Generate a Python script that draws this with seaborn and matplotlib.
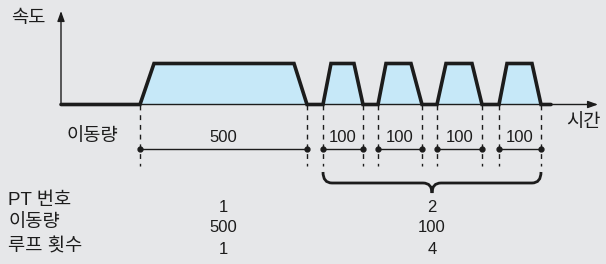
import matplotlib
matplotlib.use("Agg")
import matplotlib.pyplot as plt
import seaborn as sns
from matplotlib.path import Path
from matplotlib.patches import PathPatch

# =======================
# Data (time units along the axis, speed normalised to 1)
# =======================
profile_t = [0, 79, 93, 233, 246, 262, 270, 293, 302, 317, 325, 350, 361,
             376, 385, 411, 421, 438, 446, 471, 480, 490]
profile_v = [0, 0, 1, 1, 0, 0, 1, 1, 0, 0, 1, 1, 0,
             0, 1, 1, 0, 0, 1, 1, 0, 0]

move_start = [79, 262, 317, 376, 438]
move_end = [246, 302, 361, 421, 480]
move_amount = ["500", "100", "100", "100", "100"]

row_labels = ["PT 번호", "이동량", "루프 횟수"]
pt_numbers = ["1", "2"]
pt_amounts = ["500", "100"]
pt_loops = ["1", "4"]
pt_moves = [[0], [1, 2, 3, 4]]  # which moves belong to each PT

# =======================
# Style
# =======================
BG = "#e6e7e9"
FILL = "#c6e8f8"
INK = "#1c1c1c"
sns.set_theme(style="white", rc={"figure.facecolor": BG, "axes.facecolor": BG})
plt.rcParams["font.family"] = ["Liberation Sans", "Noto Sans CJK KR", "DejaVu Sans"]
LBL = 13.5  # korean labels
NUM = 12    # numbers

W, H = 606, 264
X0, Y0, VSCALE = 61, 104.5, 41  # origin in pixels, pixels per unit speed


def py(ypix):
    # pixel row -> data y
    return (Y0 - ypix) / VSCALE


fig = plt.figure(figsize=(W / 100, H / 100), dpi=100)
ax = fig.add_axes([0, 0, 1, 1])
ax.set_xlim(-X0, W - X0)
ax.set_ylim(py(H), py(0))
ax.axis("off")

# axes arrows
arrow = dict(arrowstyle="-|>,head_length=0.5,head_width=0.18", color=INK, lw=1, shrinkA=0, shrinkB=0)
ax.annotate("", xy=(0, py(11)), xytext=(0, 0), arrowprops=arrow)
ax.annotate("", xy=(598 - X0, 0), xytext=(0, 0), arrowprops=arrow)
ax.text(-50, py(18), "속도", fontsize=LBL, color=INK, va="center", ha="left")
ax.text(583 - X0, py(123), "시간", fontsize=LBL, color=INK, va="center", ha="center")

# speed profile
ax.fill_between(profile_t, profile_v, 0, color=FILL, lw=0, zorder=2)
sns.lineplot(x=profile_t, y=profile_v, sort=False, estimator=None, ax=ax,
             color=INK, lw=2.6, zorder=3)
ax.lines[-1].set_solid_joinstyle("miter")

# dashed guides + dimension lines
ax.text(118 - X0, py(137), "이동량", fontsize=LBL, color=INK, va="center", ha="right")
for s, e, amt in zip(move_start, move_end, move_amount):
    for x in (s, e):
        ax.plot([x, x], [0, py(166)], color=INK, lw=1, ls=(0, (3.5, 3.5)), zorder=1)
    ax.plot([s, e], [py(149), py(149)], color=INK, lw=1, marker="o", ms=3.5, zorder=4)
    ax.text((s + e) / 2, py(137), amt, fontsize=NUM, color=INK, va="center", ha="center")

# brace over the looped moves
b0, b1 = move_start[pt_moves[1][0]], move_end[pt_moves[1][-1]]
bm = (b0 + b1) / 2
yt, ym, yb = py(172), py(183), py(193)
r = 9
verts = [(b0, yt), (b0, ym), (b0 + r, ym), (bm - r, ym), (bm, ym), (bm, yb),
         (bm, ym), (bm + r, ym), (b1 - r, ym), (b1, ym), (b1, yt)]
codes = [Path.MOVETO, Path.CURVE3, Path.CURVE3, Path.LINETO, Path.CURVE3, Path.CURVE3,
         Path.CURVE3, Path.CURVE3, Path.LINETO, Path.CURVE3, Path.CURVE3]
ax.add_patch(PathPatch(Path(verts, codes), fill=False, lw=2, ec=INK, zorder=4))

# table
row_y = [200, 222, 247]
val_y = [207, 228, 249]
for lab, yy in zip(row_labels, row_y):
    ax.text(8 - X0, py(yy), lab, fontsize=LBL, color=INK, va="center", ha="left")
for i, idx in enumerate(pt_moves):
    cx = (move_start[idx[0]] + move_end[idx[-1]]) / 2
    for val, yy in zip([pt_numbers[i], pt_amounts[i], pt_loops[i]], val_y):
        ax.text(cx, py(yy), val, fontsize=NUM, color=INK, va="center", ha="center")

fig.savefig("out.png", dpi=100, facecolor=BG)
